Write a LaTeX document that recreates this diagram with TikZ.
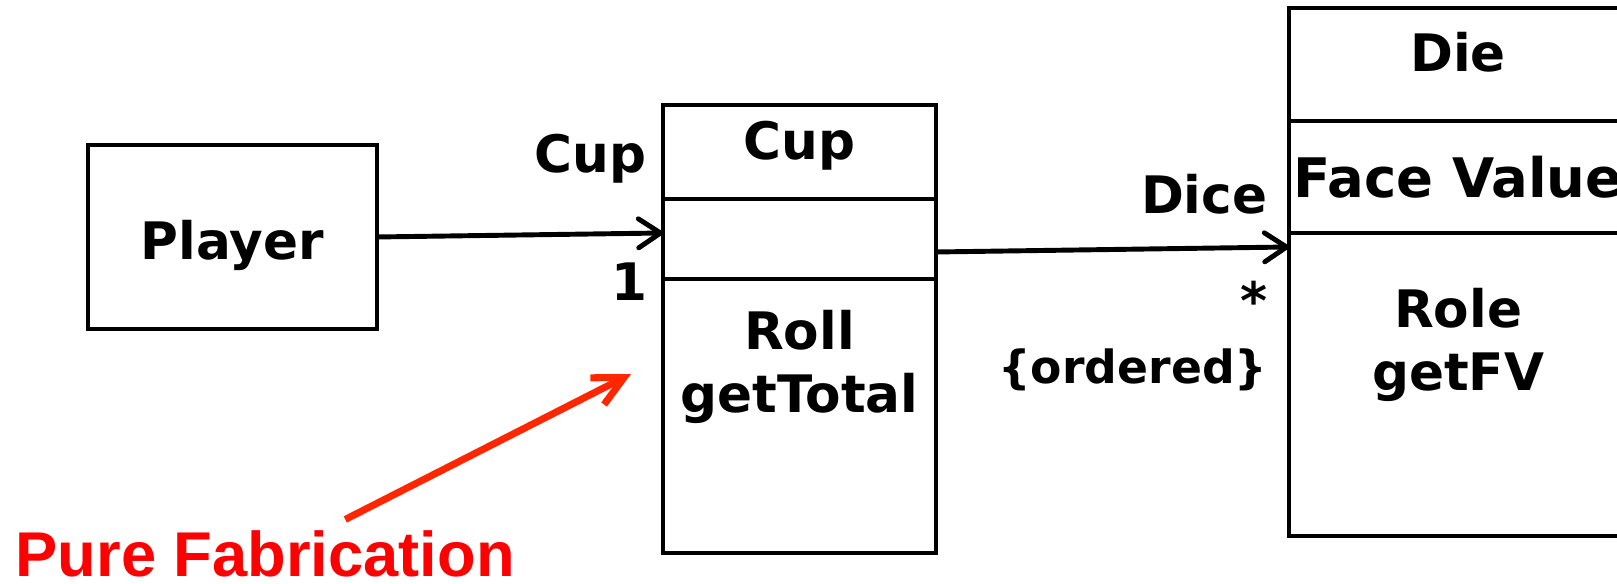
\documentclass[tikz,border=0pt]{standalone}
\usepackage{fontspec}
\setmainfont{DejaVu Sans}
\newfontfamily\fabfont{Liberation Sans}
\usepackage{xcolor}
\usepackage{tikz}
\usetikzlibrary{positioning, arrows.meta}

\definecolor{fabred}{RGB}{255,0,0}
\definecolor{fabarrow}{RGB}{255,38,0}

\begin{document}
\begin{tikzpicture}[
    node distance=0pt, % compartimentos encostados uns nos outros
    compartment/.style={
        draw,
        line width=1.4pt,
        outer sep=0pt,
        inner sep=0pt,
        align=center,
        text height=3.7mm,
        text depth=1.2mm,
        font=\fontsize{14.7}{18}\selectfont\bfseries
    },
    cupbox/.style={compartment, minimum width=2.73cm},
    diebox/.style={compartment, minimum width=3.38cm},
    opsbox/.style={text depth=#1}, % ajusta a altura das operações
    role/.style={inner sep=0pt, font=\fontsize{14.7}{18}\selectfont\bfseries},
    assoc/.style={-{Straight Barb[length=2.2mm, width=2.9mm, round]}, line width=1.4pt}
]
% --- Área visível da figura ---
\clip (0,0) rectangle (16.17,5.84);

% Classe Player
\node (player) [compartment, minimum width=2.89cm, minimum height=1.84cm, text height=5.8mm, anchor=north west] at (0.88,4.39) {Player};

% Classe Cup: nome, atributos e operações
\node (cupname) [cupbox, minimum height=0.94cm, text depth=2.2mm, anchor=north west] at (6.63,4.79) {Cup};
\node (cupattr) [cupbox, minimum height=0.80cm, below=of cupname] {};
\node (cupops) [cupbox, opsbox=4.3mm, minimum height=2.74cm, below=of cupattr] {Roll\\getTotal};

% Classe Die (sai pela borda direita)
\node (diename) [diebox, minimum height=1.13cm, text depth=2.2mm, anchor=north west] at (12.89,5.76) {Die};
\node (dieattr) [diebox, minimum height=1.12cm, text height=5.3mm, font=\fontsize{15.5}{18}\selectfont\bfseries, below=of diename] {Face Value};
\node (dieops) [diebox, opsbox=2.4mm, minimum height=3.03cm, below=of dieattr] {Role\\getFV};

% Papéis e multiplicidades
\node (cuprole) [role, anchor=base east] at ([xshift=-1.6mm, yshift=-2.1mm]cupname.west) {Cup};
\node (cupmult) [role, anchor=base east] at ([xshift=-1.5mm, yshift=-2.2mm]cupattr.south west) {1};
\node (dicerole) [role, anchor=base east] at ([xshift=-2.1mm, yshift=1.9mm]dieattr.south west) {Dice};
\node (dicemult) [role, anchor=base east] at ([xshift=-2.1mm, yshift=-8.7mm]dieattr.south west) {*};
\node (diceorder) [role, anchor=base east, font=\fontsize{13}{16}\selectfont\bfseries] at ([xshift=-2.1mm, yshift=-15.1mm]dieattr.south west) {\{ordered\}};

% Associações
\draw[assoc] (player.east) -- ([yshift=0.6mm]cupattr.west);
\draw[assoc] ([yshift=-1.3mm]cupattr.east) -- ([yshift=-1.4mm]dieattr.south west);

% Nota em vermelho apontando para Cup
\node (fab) [anchor=base west, inner sep=0pt, text=fabred, font=\fabfont\bfseries\fontsize{18}{22}\selectfont] at (0.15,0.07) {Pure Fabrication};
\coordinate (fabtip) at (6.31,2.10);
\draw[-{Straight Barb[length=3mm, width=3mm]}, line width=2pt, fabarrow] ([xshift=8mm, yshift=1.1mm]fab.north) -- (fabtip);

\end{tikzpicture}
\end{document}
